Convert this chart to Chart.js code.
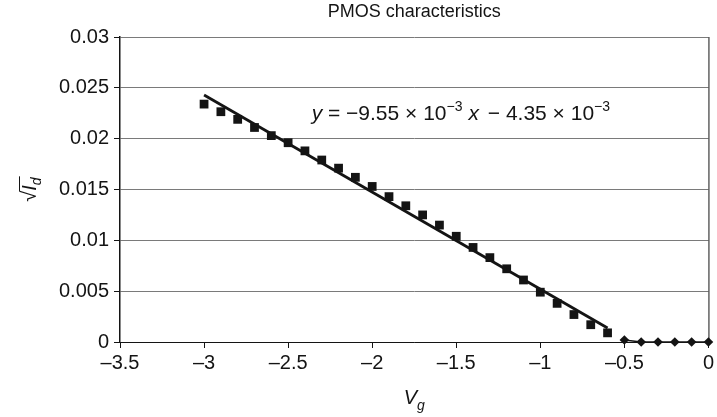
<!DOCTYPE html>
<html>
<head>
<meta charset="utf-8">
<script src="https://cdn.jsdelivr.net/npm/chart.js@4.4.0/dist/chart.umd.min.js"></script>
<style>
  html, body { margin: 0; padding: 0; background: #fff; }
  #wrap { width: 717px; height: 417px; }
</style>
</head>
<body>
<div id="wrap"><canvas id="pmos-chart" width="717" height="417"></canvas></div>
<script>
// measured sqrt(Id) above threshold (square markers)
var vgOn = [-3.0, -2.9, -2.8, -2.7, -2.6, -2.5, -2.4, -2.3, -2.2, -2.1, -2.0, -1.9, -1.8,
            -1.7, -1.6, -1.5, -1.4, -1.3, -1.2, -1.1, -1.0, -0.9, -0.8, -0.7, -0.6];
var sqrtIdOn = [0.0234, 0.02265, 0.0219, 0.0211, 0.0203, 0.0196, 0.0188, 0.0179, 0.0171, 0.0162,
                0.0153, 0.0143, 0.0134, 0.0125, 0.0115, 0.0104, 0.0093, 0.0083, 0.0072,
                0.0061, 0.0049, 0.0038, 0.0027, 0.0017, 0.0009];

// below threshold (diamond markers)
var vgOff = [-0.5, -0.4, -0.3, -0.2, -0.1, 0];
var sqrtIdOff = [0.0002, 0, 0, 0, 0, 0];

// linear fit: y = slope * x + intercept
var fitSlope = -9.55e-3;
var fitIntercept = -4.35e-3;
var fitRange = [-3.0, -0.6];

var xTicks = [-3.5, -3, -2.5, -2, -1.5, -1, -0.5, 0];
var yTicks = [0, 0.005, 0.01, 0.015, 0.02, 0.025, 0.03];
var yTickLabels = ['0', '0.005', '0.01', '0.015', '0.02', '0.025', '0.03'];

var FONT = '"Liberation Sans", Arial, Helvetica, sans-serif';
var INK = '#141414';

function pts(xs, ys) {
  return xs.map(function (x, i) { return { x: x, y: ys[i] }; });
}

function dash(v) {
  return v < 0 ? '\u2013' + Math.abs(v) : String(v);
}

// draws a run of text pieces left to right, returns total width
function drawRun(ctx, parts, x, y, measureOnly) {
  var cx = x;
  parts.forEach(function (p) {
    ctx.font = (p.italic ? 'italic ' : '') + p.size + 'px ' + FONT;
    if (!measureOnly) ctx.fillText(p.t, cx, y + (p.dy || 0));
    cx += ctx.measureText(p.t).width + (p.gap || 0);
  });
  return cx - x;
}

var labelsPlugin = {
  id: 'labels',
  afterDraw: function (chart) {
    var ctx = chart.ctx;
    var area = chart.chartArea;
    var xs = chart.scales.x, ys = chart.scales.y;
    ctx.save();
    ctx.fillStyle = INK;
    ctx.strokeStyle = INK;
    ctx.textBaseline = 'alphabetic';
    ctx.textAlign = 'left';

    // right frame edge
    ctx.lineWidth = 1;
    ctx.beginPath();
    ctx.moveTo(area.right + 0.5, area.top);
    ctx.lineTo(area.right + 0.5, area.bottom);
    ctx.stroke();

    // title
    ctx.textAlign = 'center';
    ctx.font = '18px ' + FONT;
    ctx.fillText('PMOS characteristics', (area.left + area.right) / 2, 17);
    ctx.textAlign = 'left';

    // fit equation
    var slope = (fitSlope * 1e3).toFixed(2).replace('-', '\u2212');
    var sign = fitIntercept < 0 ? '\u2212' : '+';
    var icpt = Math.abs(fitIntercept * 1e3).toFixed(2);
    var eq = [
      { t: 'y', italic: true, size: 21 },
      { t: ' = ' + slope + ' \u00d7 10', size: 21 },
      { t: '\u22123', size: 14, dy: -9, gap: 6 },
      { t: 'x', italic: true, size: 21, gap: 3 },
      { t: ' ' + sign + ' ' + icpt + ' \u00d7 10', size: 21 },
      { t: '\u22123', size: 14, dy: -9 }
    ];
    drawRun(ctx, eq, xs.getPixelForValue(-2.36), ys.getPixelForValue(0.0218));

    // x axis title: V_g
    var vg = [
      { t: 'V', italic: true, size: 20 },
      { t: 'g', italic: true, size: 14, dy: 6 }
    ];
    var w = drawRun(ctx, vg, 0, 0, true);
    drawRun(ctx, vg, (area.left + area.right) / 2 - w / 2, 404);

    // y axis title: sqrt(I_d)
    ctx.save();
    ctx.translate(30, ys.getPixelForValue(0.015));
    ctx.rotate(-Math.PI / 2);
    var root = [{ t: '\u221a', size: 20 }];
    var id = [
      { t: 'I', italic: true, size: 20 },
      { t: 'd', italic: true, size: 14, dy: 5 }
    ];
    var wr = drawRun(ctx, root, 0, 0, true);
    var wi = drawRun(ctx, id, 0, 0, true);
    var x0 = -(wr + wi) / 2;
    drawRun(ctx, root, x0, 6);
    drawRun(ctx, id, x0 + wr, 6);
    ctx.lineWidth = 1;
    ctx.beginPath();
    ctx.moveTo(x0 + wr - 1, -10.5);
    ctx.lineTo(x0 + wr + wi + 1, -10.5);
    ctx.stroke();
    ctx.restore();

    ctx.restore();
  }
};

var ctx = document.getElementById('pmos-chart').getContext('2d');

var pmosChart = new Chart(ctx, {
  type: 'scatter',
  data: {
    datasets: [
      {
        label: 'fit',
        data: fitRange.map(function (x) { return { x: x, y: fitSlope * x + fitIntercept }; }),
        showLine: true,
        borderColor: INK,
        borderWidth: 2.8,
        pointRadius: 0,
        clip: false
      },
      {
        label: 'on',
        data: pts(vgOn, sqrtIdOn),
        showLine: false,
        pointStyle: 'rect',
        pointRadius: 6.2,
        backgroundColor: INK,
        borderColor: INK,
        borderWidth: 0,
        clip: false
      },
      {
        label: 'off',
        data: pts(vgOff, sqrtIdOff),
        showLine: true,
        borderColor: INK,
        borderWidth: 1.5,
        pointStyle: 'rectRot',
        pointRadius: 4.8,
        backgroundColor: INK,
        pointBorderWidth: 0,
        clip: false
      }
    ]
  },
  options: {
    responsive: false,
    animation: false,
    layout: { padding: { left: 0, right: 5, top: 37, bottom: 0 } },
    plugins: {
      legend: { display: false },
      tooltip: { enabled: false }
    },
    scales: {
      x: {
        type: 'linear',
        min: -3.5,
        max: 0,
        afterBuildTicks: function (scale) {
          scale.ticks = xTicks.map(function (v) { return { value: v }; });
        },
        afterFit: function (scale) { scale.height = 75; },
        ticks: {
          color: INK,
          font: { family: FONT, size: 20 },
          padding: 3,
          maxRotation: 0,
          callback: function (v) { return dash(v); }
        },
        grid: {
          drawOnChartArea: false,
          tickLength: 6,
          tickColor: INK
        },
        border: { color: INK, width: 1 }
      },
      y: {
        type: 'linear',
        min: 0,
        max: 0.03,
        afterBuildTicks: function (scale) {
          scale.ticks = yTicks.map(function (v) { return { value: v }; });
        },
        afterFit: function (scale) { scale.width = 120; },
        ticks: {
          color: INK,
          font: { family: FONT, size: 20 },
          padding: 5,
          callback: function (v) {
            var i = yTicks.indexOf(v);
            return i >= 0 ? yTickLabels[i] : '';
          }
        },
        grid: {
          color: '#7a7a7a',
          lineWidth: 1,
          tickLength: 6,
          tickColor: INK
        },
        border: { color: INK, width: 1.5 }
      }
    }
  },
  plugins: [labelsPlugin]
});
</script>
</body>
</html>
